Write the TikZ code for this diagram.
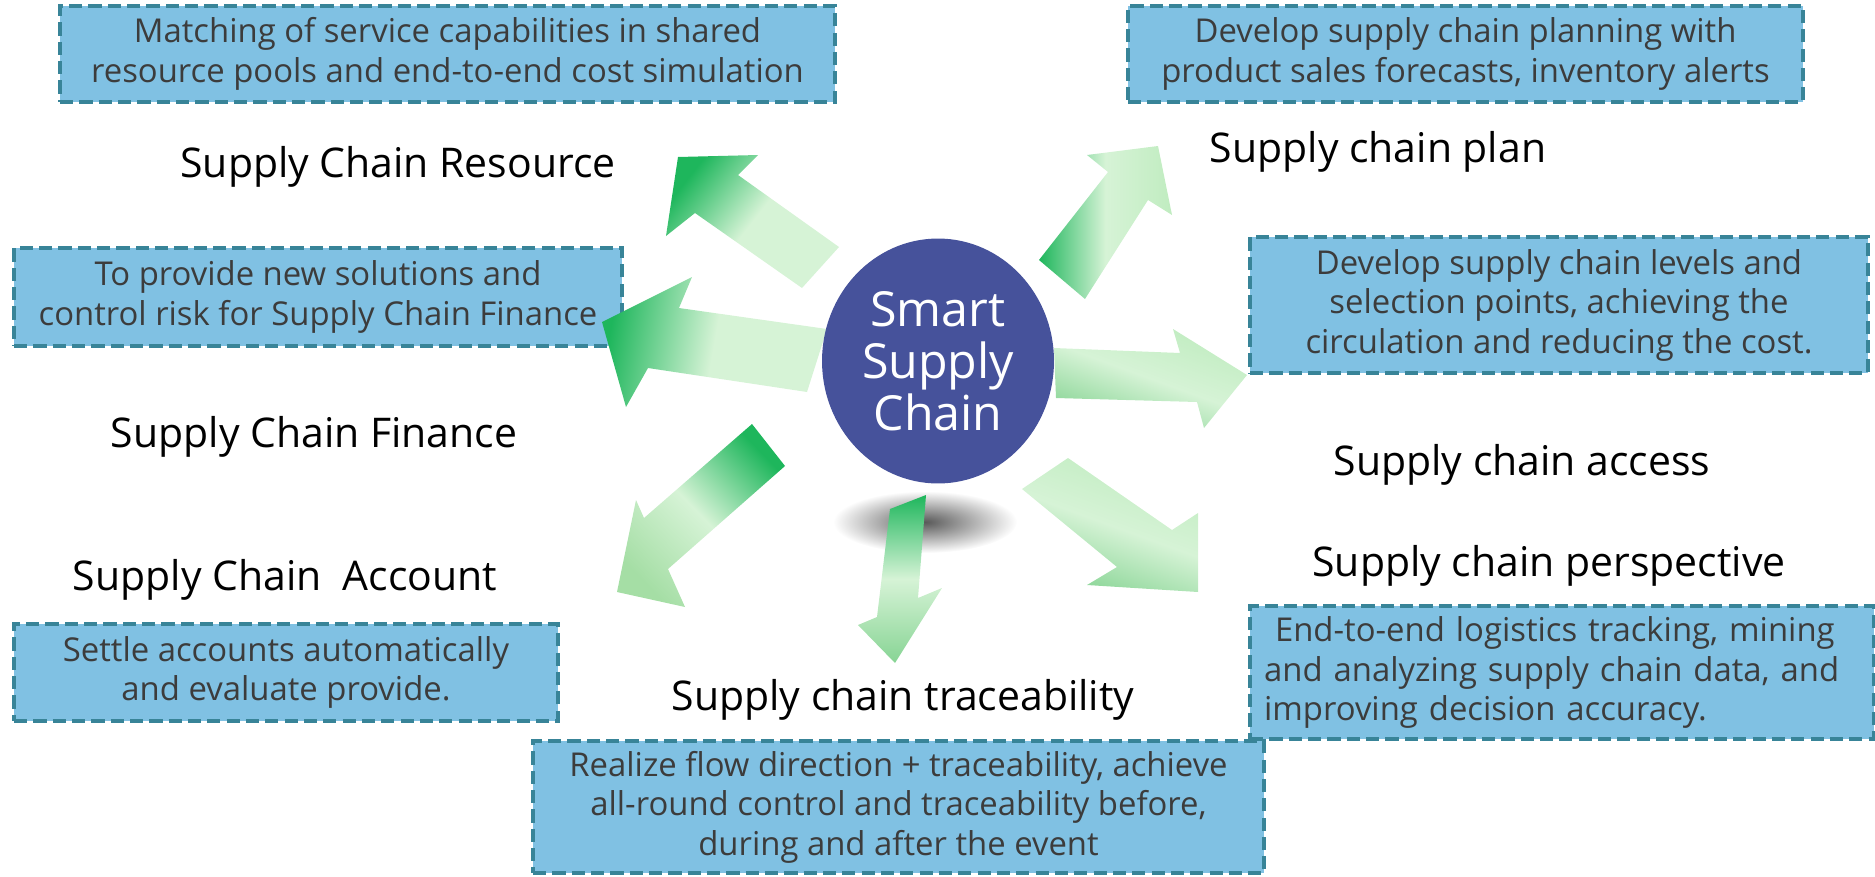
\documentclass[tikz,border=0pt]{standalone}
\usepackage{fontspec}
\setmainfont{Open Sans}
\usetikzlibrary{shapes.geometric}
\definecolor{hubblue}{RGB}{70,82,155}
\definecolor{boxfill}{RGB}{128,193,227}
\definecolor{boxline}{RGB}{56,132,152}
\definecolor{boxtext}{RGB}{60,60,60}
\definecolor{greendark}{RGB}{30,182,92}
\definecolor{greenpale}{RGB}{214,243,214}
\definecolor{greenlight}{RGB}{192,236,192}
\definecolor{greenmid}{RGB}{135,212,148}
\definecolor{greensoft}{RGB}{165,222,165}
\tikzset{
  infobox/.style={draw=boxline, fill=boxfill, line width=2.5pt, dash pattern=on 7.5pt off 3.5pt,
    text=boxtext, font=\fontsize{18.7}{22.5}\selectfont, align=center, inner sep=0pt},
  title/.style={font=\fontsize{23.3}{28}\selectfont, anchor=base},
  hub/.style={ellipse, fill=hubblue, text=white, minimum width=4.64cm, minimum height=4.9cm,
    align=center, font=\fontsize{27.5}{29.6}\selectfont, inner sep=0pt},
}
\begin{document}
\begin{tikzpicture}[x=0.02cm, y=-0.02cm]
\useasboundingbox (0,0) rectangle (1875,876);
\shade[inner color=black!65, outer color=white] (925,522) ellipse (92 and 31);
\node[infobox, minimum width=15.5cm, minimum height=1.92cm] (sim) at (447.5,54) {Matching of service capabilities in shared\\resource pools and end-to-end cost simulation};
\node[infobox, minimum width=13.5cm, minimum height=1.92cm] (fcst) at (1465.5,54) {Develop supply chain planning with\\product sales forecasts, inventory alerts};
\node[infobox, minimum width=12.16cm, minimum height=1.96cm] (risk) at (318,297) {To provide new solutions and\\control risk for Supply Chain Finance};
\node[infobox, minimum width=12.36cm, minimum height=2.72cm] (cost) at (1559,305) {Develop supply chain levels and\\selection points, achieving the\\circulation and reducing the cost.};
\node[infobox, minimum width=10.88cm, minimum height=1.94cm] (settle) at (286,672.5) {Settle accounts automatically\\and evaluate provide.};
\node[infobox, align=left, inner xsep=0.28cm, text width=11.92cm, minimum height=2.66cm] (track) at (1562,672.5) {\ End-to-end logistics tracking, mining\\and analyzing supply chain data, and\\improving decision accuracy.};
\node[infobox, minimum width=14.62cm, minimum height=2.64cm] (flow) at (898.5,807) {Realize flow direction + traceability, achieve\\all-round control and traceability before,\\during and after the event};
\node[title] (restitle) at (398,177) {Supply Chain Resource};
\node[title] (plantitle) at (1378,162) {Supply chain plan};
\node[title] (fintitle) at (314,447) {Supply Chain Finance};
\node[title] (acctitle) at (1522,475) {Supply chain access};
\node[title] (accttitle) at (285,590) {Supply Chain\ \ Account};
\node[title] (pertitle) at (1549,576) {Supply chain perspective};
\node[title] (tractitle) at (903,710) {Supply chain traceability};
\shade[top color=greendark, bottom color=greenpale, middle color=greenpale, shading angle=52] (839,247) -- (738,175) -- (758,155) -- (678,157) -- (666,236) -- (695,213) -- (802,288) -- cycle;
\shade[top color=greendark, bottom color=greenpale, middle color=greenpale, shading angle=80] (827,329) -- (679,308) -- (692,277) -- (602,322) -- (626,407) -- (648,368) -- (807,392) -- cycle;
\shade[top color=greendark, bottom color=greenlight, middle color=greenpale, shading angle=90] (1039,260) -- (1108,172) -- (1087,155) -- (1158,146) -- (1172,215) -- (1148,200) -- (1085,299) -- cycle;
\shade[top color=greenlight, bottom color=greenmid, middle color=greenpale, shading angle=-20] (1054,348) -- (1180,353) -- (1173,329) -- (1247,375) -- (1204,428) -- (1197,402) -- (1056,398) -- cycle;
\shade[top color=greenlight, bottom color=greenmid, middle color=greenpale, shading angle=-20] (1068,458) -- (1172,530) -- (1198,513) -- (1198,592) -- (1087,585) -- (1117,567) -- (1022,489) -- cycle;
\shade[top color=greendark, bottom color=greenmid, middle color=greenpale, shading angle=0] (926,495) -- (918,598) -- (942,588) -- (895,663) -- (858,625) -- (877,617) -- (890,509) -- cycle;
\shade[top color=greendark, bottom color=greensoft, middle color=greenpale, shading angle=-46] (752,424) -- (785,466) -- (668,569) -- (685,607) -- (617,592) -- (636,500) -- (644,518) -- cycle;
\node[hub] (hub) at (938,361) {Smart\\Supply\\Chain};
\end{tikzpicture}
\end{document}
